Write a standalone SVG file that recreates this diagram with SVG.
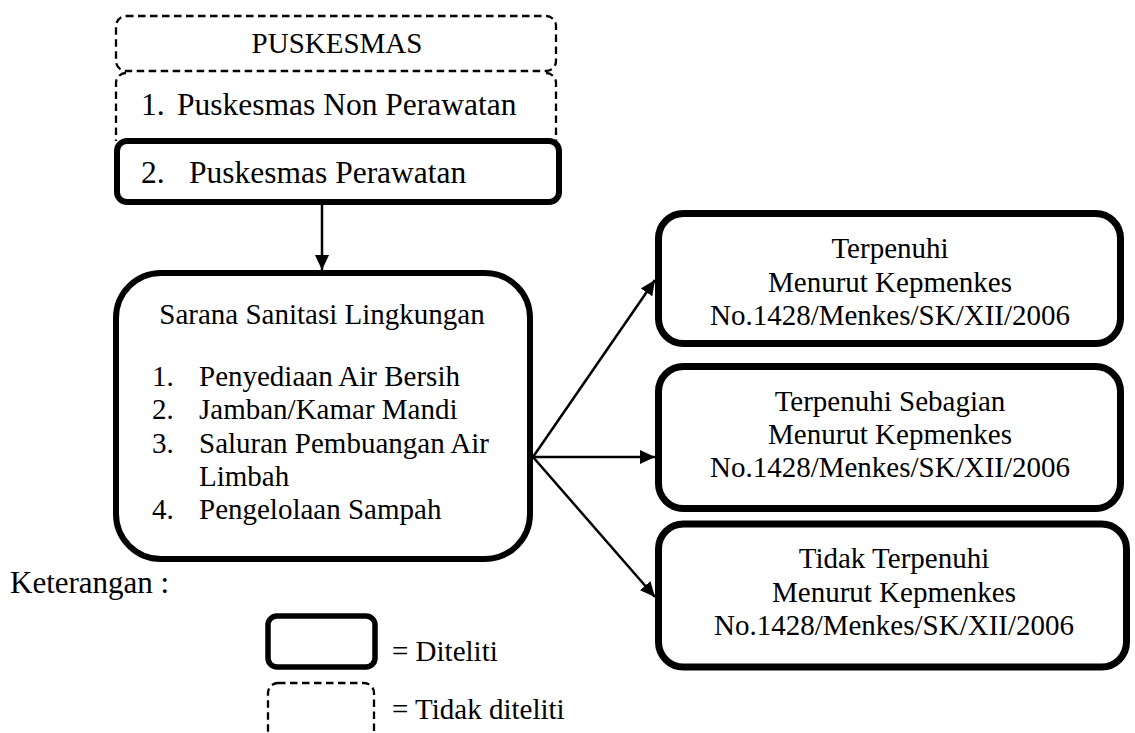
<svg xmlns="http://www.w3.org/2000/svg" width="1135" height="733" viewBox="0 0 1135 733">
<defs>
<style>
.t29{font-size:29px}
.t31{font-size:31.5px}
.mid{text-anchor:middle}
.solid{fill:#fff;stroke:#000;stroke-width:6}
.solidR{fill:#fff;stroke:#000;stroke-width:7}
.dash{fill:none;stroke:#000;stroke-width:2.3;stroke-dasharray:7.5 4.5}
.conn{stroke:#000;stroke-width:2.5;fill:none}
</style>
<marker id="ah" viewBox="0 0 15 14" refX="15" refY="7" markerWidth="15" markerHeight="14" markerUnits="userSpaceOnUse" orient="auto">
<path d="M0,0 L15,7 L0,14 z" fill="#000"/>
</marker>
</defs>
<rect width="1135" height="733" fill="#fff"/>
<g font-family="'Liberation Serif', 'DejaVu Serif', serif" fill="#000">

<g id="puskesmas">
<rect class="dash" x="116" y="16" width="440" height="55" rx="10"/>
<text class="t29 mid" x="337" y="53">PUSKESMAS</text>
</g>

<g id="non-perawatan">
<path class="dash" d="M126,73 A10,10 0 0 0 116,83 V141 M546,73 A10,10 0 0 1 556,83 V141"/>
<text class="t31" x="141" y="115">1.</text>
<text class="t31" x="177" y="115">Puskesmas Non Perawatan</text>
</g>

<g id="perawatan">
<rect class="solid" x="117" y="141" width="442" height="61" rx="10"/>
<text class="t31" x="141" y="183">2.</text>
<text class="t31" x="189" y="183">Puskesmas Perawatan</text>
</g>

<g id="sarana">
<rect class="solid" x="116" y="273" width="414" height="286" rx="45"/>
<text class="t29 mid" x="322" y="324">Sarana Sanitasi Lingkungan</text>
<text class="t29" x="152" y="386">1.</text>
<text class="t29" x="199" y="386">Penyediaan Air Bersih</text>
<text class="t29" x="152" y="419">2.</text>
<text class="t29" x="199" y="419">Jamban/Kamar Mandi</text>
<text class="t29" x="152" y="453">3.</text>
<text class="t29" x="199" y="453">Saluran Pembuangan Air</text>
<text class="t29" x="199" y="486">Limbah</text>
<text class="t29" x="152" y="519">4.</text>
<text class="t29" x="199" y="519">Pengelolaan Sampah</text>
</g>

<g id="terpenuhi">
<rect class="solidR" x="658.5" y="213.5" width="462" height="130" rx="25"/>
<text class="t29 mid" x="890" y="258">Terpenuhi</text>
<text class="t29 mid" x="890" y="292">Menurut Kepmenkes</text>
<text class="t29 mid" x="890" y="325">No.1428/Menkes/SK/XII/2006</text>
</g>

<g id="terpenuhi-sebagian">
<rect class="solidR" x="658.5" y="366.5" width="462" height="142" rx="25"/>
<text class="t29 mid" x="890" y="411">Terpenuhi Sebagian</text>
<text class="t29 mid" x="890" y="444">Menurut Kepmenkes</text>
<text class="t29 mid" x="890" y="477">No.1428/Menkes/SK/XII/2006</text>
</g>

<g id="tidak-terpenuhi">
<rect class="solidR" x="658.5" y="524" width="468" height="143" rx="25"/>
<text class="t29 mid" x="894" y="568">Tidak Terpenuhi</text>
<text class="t29 mid" x="894" y="602">Menurut Kepmenkes</text>
<text class="t29 mid" x="894" y="635">No.1428/Menkes/SK/XII/2006</text>
</g>

<g id="connectors">
<line class="conn" x1="322" y1="204" x2="322" y2="270" marker-end="url(#ah)"/>
<line class="conn" x1="533" y1="457" x2="655" y2="280" marker-end="url(#ah)"/>
<line class="conn" x1="533" y1="457" x2="655" y2="457" marker-end="url(#ah)"/>
<line class="conn" x1="533" y1="457" x2="655" y2="597" marker-end="url(#ah)"/>
</g>

<g id="legend">
<text font-size="31" x="10" y="593">Keterangan :</text>
<rect x="268" y="616" width="107" height="51" rx="9" fill="#fff" stroke="#000" stroke-width="5.5"/>
<text class="t29" x="392" y="661">= Diteliti</text>
<rect class="dash" x="268" y="683" width="106" height="62" rx="10"/>
<text class="t29" x="392" y="719">= Tidak diteliti</text>
</g>
</g>
</svg>
